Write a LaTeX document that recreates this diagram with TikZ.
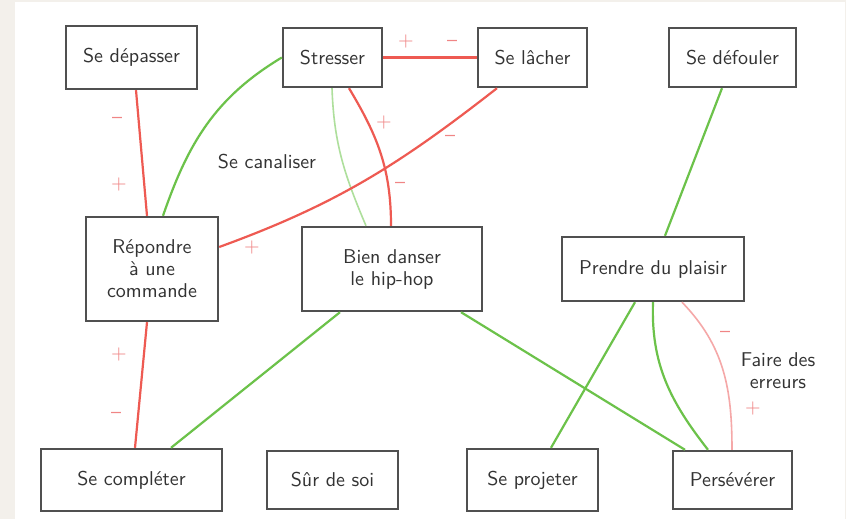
\documentclass[tikz,border=0pt]{standalone}
\usepackage{tikz}
\definecolor{bgbeige}{HTML}{F3F0EB}
\definecolor{boxgray}{HTML}{505050}
\definecolor{txtgray}{HTML}{333333}
\definecolor{lred}{HTML}{EE5A52}
\definecolor{lpink}{HTML}{F5A8A8}
\definecolor{lgreen}{HTML}{6CC24A}
\definecolor{pgreen}{HTML}{AEDF9C}
\definecolor{signred}{HTML}{F08585}
\begin{document}
\begin{tikzpicture}[x=0.5pt,y=0.5pt,
  font=\sffamily\fontsize{10}{11}\selectfont,
  box/.style={draw=boxgray, line width=1.2pt, fill=white, text=txtgray, align=center, inner sep=0pt},
  redl/.style={draw=lred, line width=1.1pt},
  pinkl/.style={draw=lpink, line width=0.8pt},
  greenl/.style={draw=lgreen, line width=1.1pt},
  pgreenl/.style={draw=pgreen, line width=0.8pt},
  sign/.style={text=signred, inner sep=0pt},
  lbl/.style={text=txtgray, align=center, inner sep=0pt}]
\useasboundingbox (0,0) rectangle (846,-519);
\fill[bgbeige] (0,0) rectangle (846,-519);
\fill[white] (15,-2) rectangle (845,-519);

% boxes
\node[box, minimum width=65.5pt, minimum height=31.5pt] (dep) at (131.5,-57.5) {Se dépasser};
\node[box, minimum width=49.5pt, minimum height=29.5pt] (str) at (332.5,-57.5) {Stresser};
\node[box, minimum width=54.5pt, minimum height=29.5pt] (lach) at (532.5,-57.5) {Se lâcher};
\node[box, minimum width=63.5pt, minimum height=29.5pt] (def) at (732.5,-57.5) {Se défouler};
\node[box, minimum width=66pt, minimum height=52pt] (rep) at (152,-269) {Répondre\\à une\\commande};
\node[box, minimum width=90pt, minimum height=42pt] (bien) at (392,-269) {Bien danser\\le hip-hop};
\node[box, minimum width=91pt, minimum height=32pt] (pren) at (653,-269) {Prendre du plaisir};
\node[box, minimum width=90.5pt, minimum height=31pt] (comp) at (131.5,-480) {Se compléter};
\node[box, minimum width=65.5pt, minimum height=29pt] (sur) at (332.5,-480) {Sûr de soi};
\node[box, minimum width=65.5pt, minimum height=31pt] (proj) at (532.5,-480) {Se projeter};
\node[box, minimum width=59.5pt, minimum height=29pt] (pers) at (732.5,-480) {Persévérer};

% connectors
\draw[redl] ([shift={(4.5,0)}]dep.south) -- ([shift={(-5,0)}]rep.north);
\draw[greenl] (str.west) to[out=211,in=71] ([shift={(11,0)}]rep.north);
\draw[redl] (str.east) -- (lach.west);
\draw[pgreenl] ([shift={(-0.5,0)}]str.south) to[out=-88,in=113] ([shift={(-26,0)}]bien.north);
\draw[redl] ([shift={(16.5,0)}]str.south) to[out=-59,in=90] ([shift={(-1,0)}]bien.north);
\draw[redl] ([shift={(-35.5,0)}]lach.south) to[out=218,in=20] ([shift={(0,22)}]rep.east);
\draw[greenl] ([shift={(-10.5,0)}]def.south) -- ([shift={(12,0)}]pren.north);
\draw[redl] ([shift={(-5,0)}]rep.south) -- ([shift={(3.5,0)}]comp.north);
\draw[greenl] ([shift={(-52,0)}]bien.south) -- ([shift={(39.5,0)}]comp.north);
\draw[greenl] ([shift={(69,0)}]bien.south) -- ([shift={(-47.5,0)}]pers.north);
\draw[greenl] ([shift={(-18,0)}]pren.south) -- ([shift={(18.5,0)}]proj.north);
\draw[greenl] (pren.south) to[out=-92,in=128] ([shift={(-24.5,0)}]pers.north);
\draw[pinkl] ([shift={(29,0)}]pren.south) to[out=-46,in=90] ([shift={(-0.5,0)}]pers.north);

% signs
\node[sign] (s1) at (117,-120) {–};
\node[sign] (s2) at (119,-185) {+};
\node[sign] (s3) at (406,-42) {+};
\node[sign] (s4) at (452,-43) {–};
\node[sign] (s5) at (384,-122) {+};
\node[sign] (s6) at (400,-185) {–};
\node[sign] (s7) at (450,-138) {–};
\node[sign] (s8) at (252,-247) {+};
\node[sign] (s9) at (119,-354) {+};
\node[sign] (s10) at (116,-415) {–};
\node[sign] (s11) at (725,-334) {–};
\node[sign] (s12) at (753,-408) {+};

% free labels
\node[lbl] (canal) at (267,-162) {Se canaliser};
\node[lbl] (faire) at (778,-371) {Faire des\\erreurs};
\end{tikzpicture}
\end{document}
